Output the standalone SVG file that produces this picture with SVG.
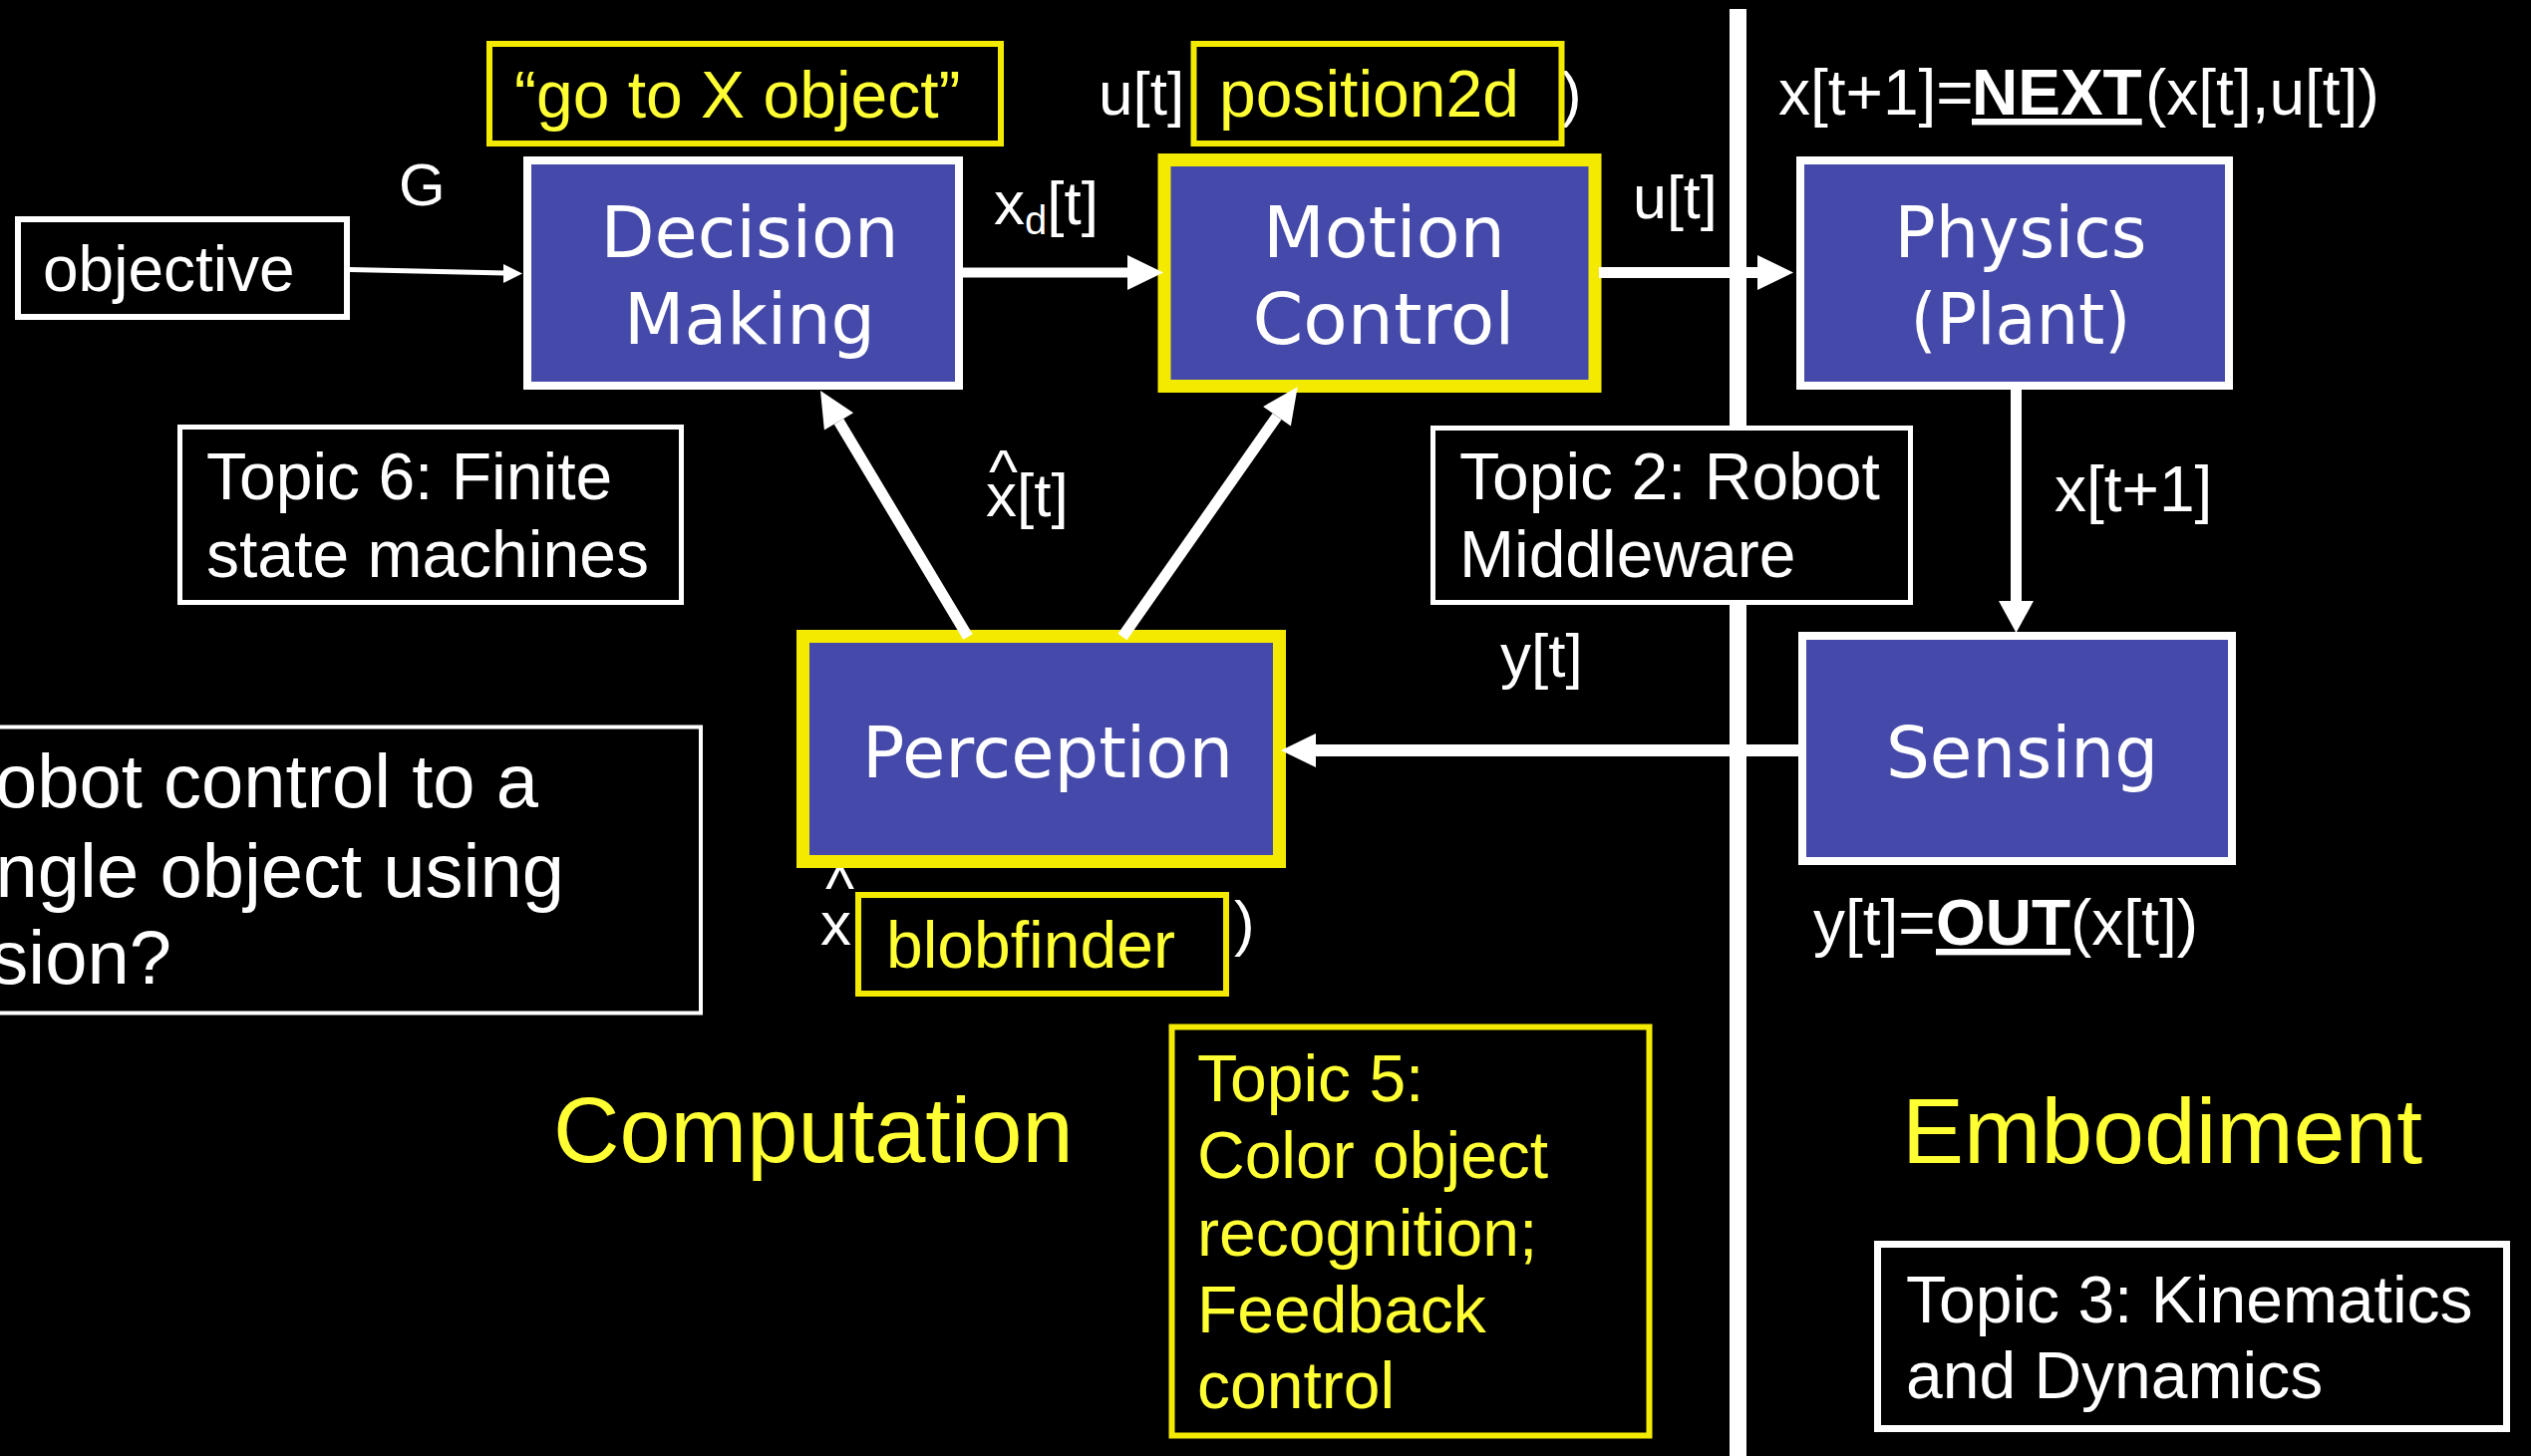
<svg xmlns="http://www.w3.org/2000/svg" width="2539" height="1461" viewBox="0 0 2539 1461">
<style>
.node-w{fill:#454AAA;stroke:#fff;stroke-width:8}
.node-y{fill:#454AAA;stroke:#F4EA00;stroke-width:13}
.box-w{fill:#000;stroke:#fff}
.box-y{fill:#000;stroke:#F4EA00;stroke-width:6}
.lbl{font-family:"DejaVu Sans",sans-serif;font-size:72px;fill:#fff;text-anchor:middle}
.t{font-family:"Liberation Sans",Arial,sans-serif;fill:#fff}
.y{fill:#FFFF33}
.b{font-weight:bold;text-decoration:underline}
.conn line{stroke:#fff;stroke-linecap:butt}
.conn polygon{fill:#fff}
</style>
<rect x="0" y="0" width="2539" height="1461" fill="#000"/>

<g id="divider">
<rect x="1735" y="9" width="17" height="1452" fill="#fff"/>
</g>

<g id="question">
<rect class="box-w" x="-10" y="729.5" width="713" height="287" stroke-width="4"/>
<text class="t" font-size="76" text-anchor="end" x="540" y="810">obot control to a</text>
<text class="t" font-size="76" text-anchor="end" x="566" y="900">ngle object using</text>
<text class="t" font-size="76" text-anchor="end" x="172" y="987">sion?</text>
</g>

<g id="objective">
<rect class="box-w" x="18" y="220" width="330" height="98" stroke-width="6"/>
<text class="t" font-size="64" x="43" y="292">objective</text>
</g>

<g id="goal">
<rect class="box-y" x="491" y="44" width="513" height="100"/>
<text class="t y" font-size="66" x="516" y="118">“go to X object”</text>
</g>

<g id="position2d">
<text class="t" font-size="62" x="1102" y="115">u[t]</text>
<text class="t" font-size="62" x="1566" y="115">)</text>
<rect class="box-y" x="1197.5" y="44" width="369" height="100"/>
<text class="t y" font-size="66" x="1223" y="117">position2d</text>
</g>

<g id="blobfinder">
<text class="t" font-size="62" x="828" y="912">^</text>
<text class="t" font-size="62" x="823" y="948">x</text>
<text class="t" font-size="62" x="1238" y="947">)</text>
<rect class="box-y" x="861" y="898" width="369" height="99"/>
<text class="t y" font-size="66" x="889" y="971">blobfinder</text>
</g>

<g id="topic6">
<rect class="box-w" x="180.5" y="428.5" width="503" height="176" stroke-width="5"/>
<text class="t" font-size="66" x="207" y="501">Topic 6: Finite</text>
<text class="t" font-size="66" x="207" y="579">state machines</text>
</g>

<g id="topic2">
<rect class="box-w" x="1437.5" y="429.5" width="479" height="175" stroke-width="5"/>
<text class="t" font-size="66" x="1464" y="501">Topic 2: Robot</text>
<text class="t" font-size="66" x="1464" y="579">Middleware</text>
</g>

<g id="topic5">
<rect class="box-y" x="1175.5" y="1030.5" width="479" height="410" stroke-width="5"/>
<text class="t y" font-size="66" x="1201" y="1105">Topic 5:</text>
<text class="t y" font-size="66" x="1201" y="1182">Color object</text>
<text class="t y" font-size="66" x="1201" y="1260">recognition;</text>
<text class="t y" font-size="66" x="1201" y="1337">Feedback</text>
<text class="t y" font-size="66" x="1201" y="1413">control</text>
</g>

<g id="topic3">
<rect class="box-w" x="1883.5" y="1248.5" width="631" height="185" stroke-width="7"/>
<text class="t" font-size="66" x="1912" y="1327">Topic 3: Kinematics</text>
<text class="t" font-size="66" x="1912" y="1403">and Dynamics</text>
</g>

<g id="decision-making">
<rect class="node-w" x="529" y="161" width="433" height="226"/>
<text class="lbl" x="752" y="258" textLength="299" lengthAdjust="spacingAndGlyphs">Decision</text>
<text class="lbl" x="752" y="345" textLength="252" lengthAdjust="spacingAndGlyphs">Making</text>
</g>

<g id="motion-control">
<rect class="node-y" x="1168" y="160.5" width="432" height="227"/>
<text class="lbl" x="1388.5" y="258" textLength="243" lengthAdjust="spacingAndGlyphs">Motion</text>
<text class="lbl" x="1388" y="345" textLength="263" lengthAdjust="spacingAndGlyphs">Control</text>
</g>

<g id="physics">
<rect class="node-w" x="1806" y="161" width="430" height="226"/>
<text class="lbl" x="2027" y="258" textLength="253" lengthAdjust="spacingAndGlyphs">Physics</text>
<text class="lbl" x="2027" y="345" textLength="221" lengthAdjust="spacingAndGlyphs">(Plant)</text>
</g>

<g id="perception">
<rect class="node-y" x="805.5" y="638.5" width="478" height="226"/>
<text class="lbl" x="1051" y="780" textLength="372" lengthAdjust="spacingAndGlyphs">Perception</text>
</g>

<g id="sensing">
<rect class="node-w" x="1808" y="638" width="431" height="226"/>
<text class="lbl" x="2028.5" y="780" textLength="273" lengthAdjust="spacingAndGlyphs">Sensing</text>
</g>

<g id="connectors" class="conn">
<line x1="351" y1="270.5" x2="507" y2="274" stroke-width="5"/>
<polygon points="505,265 524,274.5 505,284"/>
<line x1="962" y1="273.5" x2="1133" y2="273.5" stroke-width="10"/>
<polygon points="1131,256 1167,273.5 1131,291"/>
<line x1="1604" y1="273.5" x2="1765" y2="273.5" stroke-width="11"/>
<polygon points="1763,256 1799,273.5 1763,291"/>
<line x1="2022.5" y1="389" x2="2022.5" y2="605" stroke-width="11"/>
<polygon points="2005,603 2022.5,635 2040,603"/>
<line x1="1806" y1="753" x2="1318" y2="753" stroke-width="12"/>
<polygon points="1320,736 1285,753 1320,770"/>
<line x1="971" y1="639" x2="841.5" y2="422.9" stroke-width="11"/>
<polygon points="856.1,414.2 823,392 826.9,431.6"/>
<line x1="1126" y1="639" x2="1281" y2="417.8" stroke-width="11"/>
<polygon points="1294.9,427.6 1301.7,388.3 1267.1,408"/>
</g>

<g id="labels">
<text class="t" font-size="60" x="400" y="206">G</text>
<text class="t" font-size="62" x="997" y="225">x<tspan font-size="40" dy="10">d</tspan><tspan dy="-10">[t]</tspan></text>
<text class="t" font-size="61" x="1638" y="219">u[t]</text>
<text class="t" font-size="62" x="992" y="494">^</text>
<text class="t" font-size="62" x="989" y="518">x[t]</text>
<text class="t" font-size="62" x="1505" y="679">y[t]</text>
<text class="t" font-size="64" x="2061" y="513">x[t+1]</text>
<text class="t" font-size="64" x="1784" y="115">x[t+1]=<tspan class="b" x="1978">NEXT</tspan><tspan x="2152">(x[t],u[t])</tspan></text>
<text class="t" font-size="64" x="1819" y="948">y[t]=<tspan class="b" x="1942">OUT</tspan><tspan x="2077">(x[t])</tspan></text>
<text class="t y" font-size="92" x="555" y="1166">Computation</text>
<text class="t y" font-size="93" x="1908" y="1167">Embodiment</text>
</g>
</svg>
